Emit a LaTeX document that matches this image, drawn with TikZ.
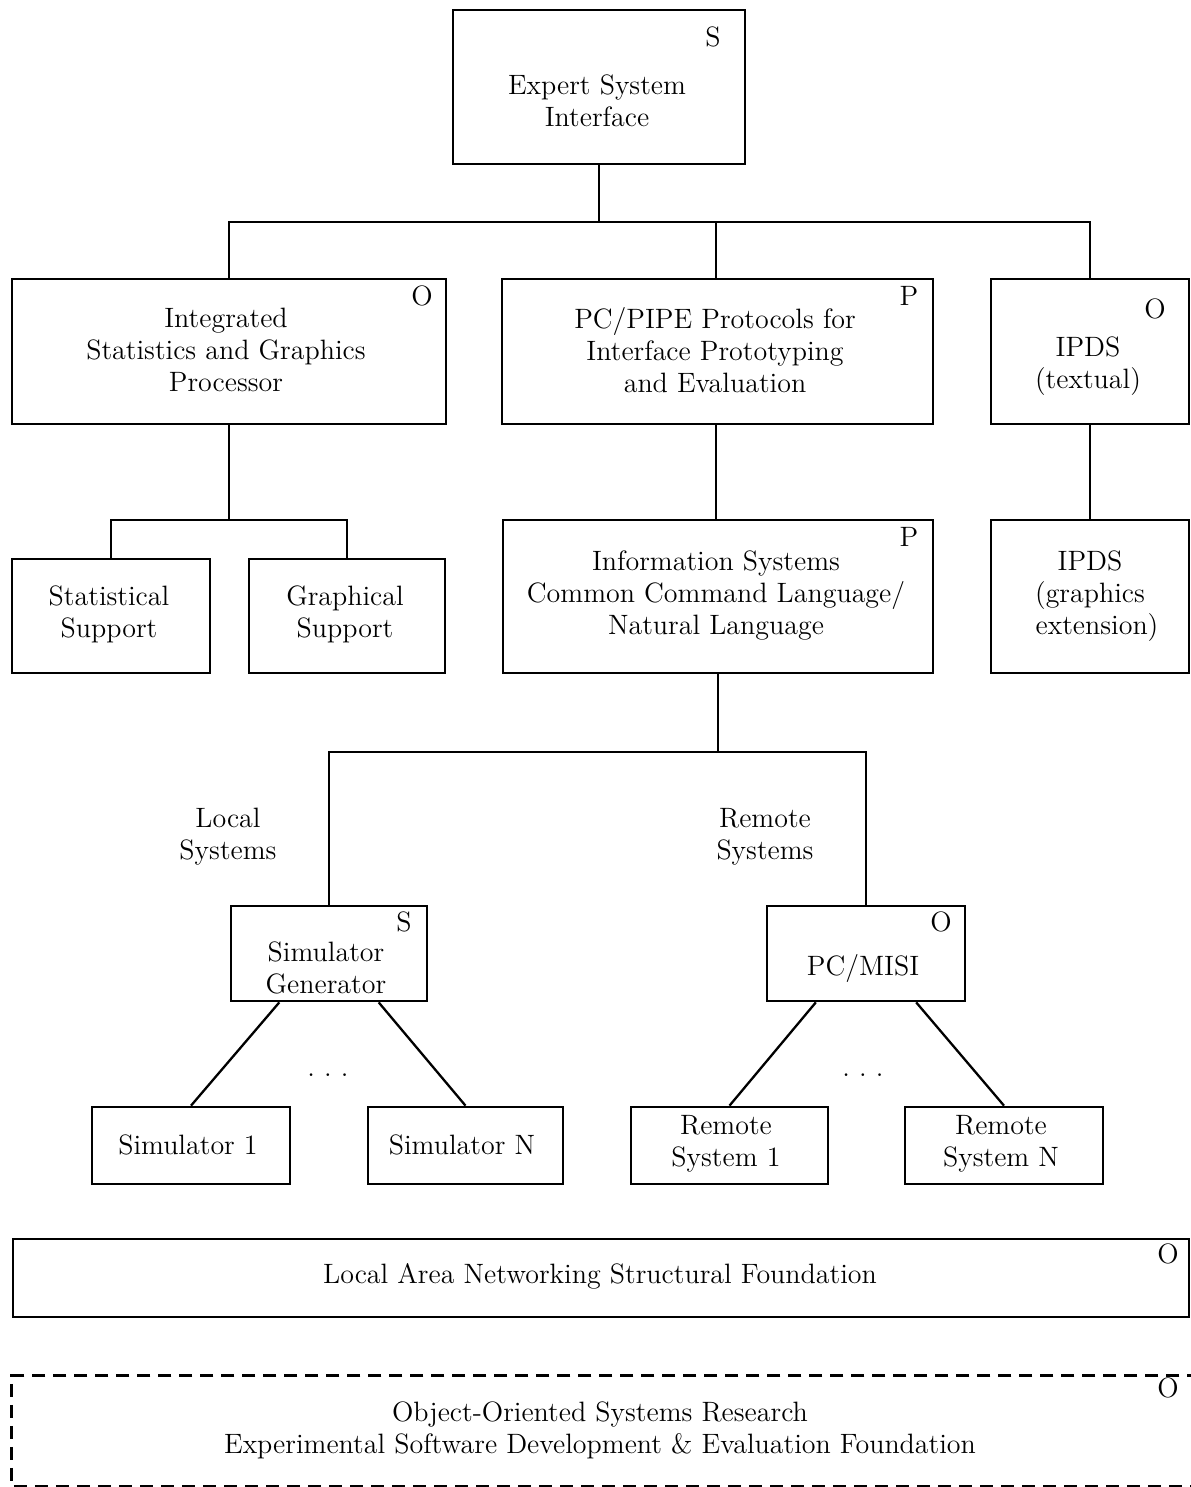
\documentclass[tikz,border=0pt]{standalone}
\usetikzlibrary{fit,calc}
\begin{document}
\begin{tikzpicture}[x=0.5pt,y=-0.5pt,
  box/.style={draw, line width=1.35pt, inner sep=0pt},
  txt/.style={align=center, inner sep=0pt, font=\fontsize{14}{16}\selectfont},
  tag/.style={inner sep=0pt, font=\fontsize{14}{16}\selectfont},
  conn/.style={line width=1.15pt},
  dashbox/.style={line width=1.35pt, dash pattern=on 6.5pt off 4pt}]
\useasboundingbox (0,0) rectangle (1190,1487);

% boxes
\node[box, fit={(453,10)(745,164)}] (esi) {};
\node[box, fit={(12,279)(446,424)}] (isg) {};
\node[box, fit={(502,279)(933,424)}] (pipe) {};
\node[box, fit={(991,279)(1189,424)}] (ipdsA) {};
\node[box, fit={(12,559)(210,673)}] (stat) {};
\node[box, fit={(249,559)(445,673)}] (graph) {};
\node[box, fit={(503,520)(933,673)}] (info) {};
\node[box, fit={(991,520)(1189,673)}] (ipdsB) {};
\node[box, fit={(231,906)(427,1001)}] (simgen) {};
\node[box, fit={(767,906)(965,1001)}] (pcmisi) {};
\node[box, fit={(92,1107)(290,1184)}] (simA) {};
\node[box, fit={(368,1107)(563,1184)}] (simN) {};
\node[box, fit={(631,1107)(828,1184)}] (remA) {};
\node[box, fit={(905,1107)(1103,1184)}] (remN) {};
\node[box, fit={(13,1239)(1189,1317)}] (lan) {};
\node[inner sep=0pt, fit={(12,1376)(1200,1486)}] (oos) {};
\draw[dashbox] (oos.north east) -- (oos.north west) -- (oos.south west) -- (oos.south east);

% texts
\node[txt] (esi-t) at (597,101) {Expert System\\Interface};
\node[txt] (isg-t) at (226,350) {Integrated\\Statistics and Graphics\\Processor};
\node[txt] (pipe-t) at (715,350) {PC/PIPE Protocols for\\Interface Prototyping\\and Evaluation};
\node[txt] (ipdsA-t) at (1088,366) {IPDS\\(textual)};
\node[txt] (stat-t) at (109,614) {Statistical\\Support};
\node[txt] (graph-t) at (345,614) {Graphical\\Support};
\node[txt] (info-t) at (716,596) {Information Systems\\Common Command Language/\\Natural Language};
\node[txt] (ipdsB-t) at (1090,596) {IPDS\\(graphics\hspace{10pt}\\\hspace{7pt}extension)};
\node[txt] (local-t) at (228,837) {Local\\Systems};
\node[txt] (remote-t) at (765,837) {Remote\\Systems};
\node[txt] (simgen-t) at (326,968) {Simulator\\Generator};
\node[txt] (pcmisi-t) at (863,968) {PC/MISI};
\node[txt] (simA-t) at (188,1145) {Simulator 1};
\node[txt] (simN-t) at (462,1145) {Simulator N};
\node[txt] (remA-t) at (726,1144) {Remote\\System 1};
\node[txt] (remN-t) at (1001,1144) {Remote\\System N};
\node[txt] (lan-t) at (600,1276) {Local Area Networking Structural Foundation};
\node[txt] (oos-t) at (600,1430) {Object-Oriented Systems Research\\Experimental Software Development \& Evaluation Foundation};
\node[txt] (dotsA) at (328,1075) {.\ .\ .};
\node[txt] (dotsB) at (863,1075) {.\ .\ .};

% tags
\node[tag] (esi-s) at (713,37) {S};
\node[tag] (isg-o) at (422,296) {O};
\node[tag] (pipe-p) at (909,296) {P};
\node[tag] (ipdsA-o) at (1155,309) {O};
\node[tag] (info-p) at (909,537) {P};
\node[tag] (simgen-s) at (404,922) {S};
\node[tag] (pcmisi-o) at (941,922) {O};
\node[tag] (lan-o) at (1168,1254) {O};
\node[tag] (oos-o) at (1168,1388) {O};

% connectors
\coordinate (busA) at (599,222);
\coordinate (busB) at (229,520);
\coordinate (busC) at (718,752);
\draw[conn] (esi.south) -- (esi.south |- busA);
\draw[conn] (isg.north) |- (busA) -| (ipdsA.north);
\draw[conn] ([xshift=-0.75pt]pipe.north) -- ([xshift=-0.75pt]pipe.north |- busA);
\draw[conn] (isg.south) -- (isg.south |- busB);
\draw[conn] (stat.north) |- (busB) -| (graph.north);
\draw[conn] ([xshift=-0.75pt]pipe.south) -- ([xshift=-0.75pt]pipe.south |- info.north);
\draw[conn] (ipdsA.south) -- (ipdsA.south |- ipdsB.north);
\draw[conn] (info.south) -- (info.south |- busC);
\draw[conn] (simgen.north) |- (busC) -| (pcmisi.north);
\draw[conn] ($(simgen.south)!0.5!(simgen.south west)$) -- (simA.north);
\draw[conn] ($(simgen.south)!0.5!(simgen.south east)$) -- (simN.north);
\draw[conn] ($(pcmisi.south)!0.5!(pcmisi.south west)$) -- (remA.north);
\draw[conn] ($(pcmisi.south)!0.5!(pcmisi.south east)$) -- (remN.north);
\end{tikzpicture}
\end{document}
